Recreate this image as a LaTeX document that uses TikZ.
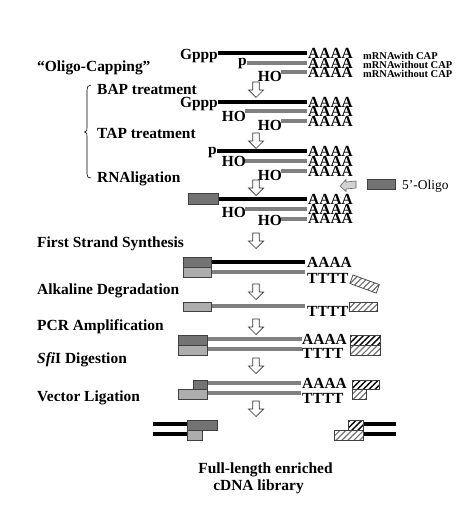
\documentclass[tikz,border=0pt]{standalone}
\usepackage{fontspec}
\setmainfont{Liberation Serif}
\usetikzlibrary{patterns.meta}
\definecolor{midgray}{gray}{0.5}
\definecolor{darkgr}{gray}{0.45}
\definecolor{lightgr}{gray}{0.68}
\begin{document}
\begin{tikzpicture}[x=1bp,y=-1bp,
  lab/.style={font=\fontsize{15.5}{17}\selectfont\bfseries, inner sep=0pt},
  seqt/.style={font=\fontsize{15.5}{17}\selectfont\bfseries, inner sep=0pt},
  mlab/.style={font=\fontsize{10.5}{12}\selectfont\bfseries, inner sep=0pt},
  olab/.style={font=\fontsize{13.5}{15}\selectfont, inner sep=0pt},
  blk/.style={line width=3.8bp, draw=black},
  gry/.style={line width=3.2bp, draw=midgray},
  dbox/.style={draw=black!75, line width=0.7bp, fill=darkgr},
  lbox/.style={draw=black!75, line width=0.7bp, fill=lightgr},
  hbk/.style={draw=black!75, line width=0.7bp, pattern={Lines[angle=45,distance=4.2bp,line width=1.4bp]}, pattern color=black},
  hlt/.style={draw=black!75, line width=0.7bp, pattern={Lines[angle=45,distance=4.2bp,line width=1.2bp]}, pattern color=black!55},
  downarr/.pic={\draw[line width=0.7bp, draw=black!80, fill=white] (-3.3,0) -- (3.3,0) -- (3.3,8) -- (7.5,8) -- (0,15.5) -- (-7.5,8) -- (-3.3,8) -- cycle;}
]
\fill[white] (0,0) rectangle (474,509);
\useasboundingbox (0,0) rectangle (474,509);

% left labels
\node[lab, anchor=base west] (l0) at (37,72) {“Oligo-Capping”};
\node[lab, anchor=base west] (l1) at (97,95) {BAP treatment};
\node[lab, anchor=base west] (l2) at (97,139) {TAP treatment};
\node[lab, anchor=base west] (l3) at (97,183) {RNAligation};
\node[lab, anchor=base west] (l4) at (37,247) {First Strand Synthesis};
\node[lab, anchor=base west] (l5) at (37,294) {Alkaline Degradation};
\node[lab, anchor=base west] (l6) at (37,330) {PCR Amplification};
\node[lab, anchor=base west] (l7) at (37,363) {\textit{Sfi}I Digestion};
\node[lab, anchor=base west] (l8) at (37,401) {Vector Ligation};

% brace
\draw[line width=0.6bp] (91,85) .. controls (88,85) and (87,87) .. (87,90) -- (87,128)
  .. controls (87,131) .. (84.5,132) .. controls (87,133) .. (87,136) -- (87,174)
  .. controls (87,177) and (88,178) .. (91,178);

% block 1
\draw[blk] (218,53) -- (307,53);
\draw[gry] (247,63) -- (307,63);
\draw[gry] (281,72) -- (307,72);
\node[seqt, anchor=base east] (g1) at (218,60) {Gppp};
\node[seqt, anchor=base east] (p1) at (247,66) {p};
\node[seqt, anchor=base east] (h1) at (282,82) {HO};
\node[seqt, anchor=base west] (a11) at (308,59) {AAAA};
\node[seqt, anchor=base west] (a12) at (308,69) {AAAA};
\node[seqt, anchor=base west] (a13) at (308,78) {AAAA};
\node[mlab, anchor=base west] (m1) at (363,60) {mRNAwith CAP};
\node[mlab, anchor=base west] (m2) at (363,69) {mRNAwithout CAP};
\node[mlab, anchor=base west] (m3) at (363,78) {mRNAwithout CAP};

\pic at (256,82) {downarr};

% block 2
\draw[blk] (218,102) -- (307,102);
\draw[gry] (245,111) -- (307,111);
\draw[gry] (281,121) -- (307,121);
\node[seqt, anchor=base east] (g2) at (218,108) {Gppp};
\node[seqt, anchor=base east] (h21) at (246,122) {HO};
\node[seqt, anchor=base east] (h22) at (282,131) {HO};
\node[seqt, anchor=base west] (a21) at (308,108) {AAAA};
\node[seqt, anchor=base west] (a22) at (308,117) {AAAA};
\node[seqt, anchor=base west] (a23) at (308,127) {AAAA};

\pic at (256,133) {downarr};

% block 3
\draw[blk] (217,151) -- (307,151);
\draw[gry] (245,161) -- (307,161);
\draw[gry] (281,171) -- (307,171);
\node[seqt, anchor=base east] (p3) at (217,155) {p};
\node[seqt, anchor=base east] (h31) at (246,167) {HO};
\node[seqt, anchor=base east] (h32) at (282,181) {HO};
\node[seqt, anchor=base west] (a31) at (308,157) {AAAA};
\node[seqt, anchor=base west] (a32) at (308,167) {AAAA};
\node[seqt, anchor=base west] (a33) at (308,177) {AAAA};

\pic at (256,180) {downarr};

% 5'-Oligo legend
\draw[dbox] (367,179) rectangle (395,189);
\node[olab, anchor=base west] (ol) at (402,190) {5'-Oligo};
\draw[line width=0.6bp, draw=black!60, fill=gray!35]
  (340,186) -- (346,179.5) -- (346,182) -- (356,181) -- (356,188) -- (346,189) -- (346,191.5) -- cycle;

% block 4
\draw[blk] (218,199) -- (307,199);
\draw[dbox] (188,193.5) rectangle (218,204.5);
\draw[gry] (245,209) -- (307,209);
\draw[gry] (281,219) -- (307,219);
\node[seqt, anchor=base east] (h41) at (246,217) {HO};
\node[seqt, anchor=base east] (h42) at (282,225) {HO};
\node[seqt, anchor=base west] (a41) at (308,204) {AAAA};
\node[seqt, anchor=base west] (a42) at (308,214) {AAAA};
\node[seqt, anchor=base west] (a43) at (308,223) {AAAA};

\pic at (256,233) {downarr};

% block 5 first strand
\draw[blk] (211,262) -- (305,262);
\draw[gry] (211,272) -- (305,272);
\draw[dbox] (183,257) rectangle (211,267);
\draw[lbox] (183,267) rectangle (211,277);
\node[seqt, anchor=base west] (a5) at (307,267) {AAAA};
\node[seqt, anchor=base west] (t5) at (307,283) {TTTT};
\draw[hlt] (353,275) -- (379.3,284.6) -- (376.2,293.1) -- (349.9,283.5) -- cycle;

\pic at (256,284) {downarr};

% block 6 alkaline
\draw[gry] (211,306) -- (305,306);
\draw[lbox] (183,302) rectangle (211,311);
\node[seqt, anchor=base west] (t6) at (307,316) {TTTT};
\draw[hlt] (349,302) rectangle (377,311);

\pic at (256,319) {downarr};

% block 7 PCR
\draw[gry] (207,339) -- (302,339);
\draw[gry] (207,349) -- (302,349);
\draw[dbox] (178,335) rectangle (207,345);
\draw[lbox] (178,345) rectangle (207,355);
\node[seqt, anchor=base west] (a7) at (302,344) {AAAA};
\node[seqt, anchor=base west] (t7) at (302,358) {TTTT};
\draw[hbk] (350,335) rectangle (380,345);
\draw[hlt] (350,345) rectangle (380,355);

\pic at (256,358) {downarr};

% block 8 vector ligation
\draw[gry] (207,383) -- (301,383);
\draw[gry] (207,393) -- (301,393);
\draw[dbox] (193,380) rectangle (207,389);
\draw[lbox] (178,389) rectangle (207,399);
\node[seqt, anchor=base west] (a8) at (302,388) {AAAA};
\node[seqt, anchor=base west] (t8) at (302,403) {TTTT};
\draw[hbk] (352,380) rectangle (379,389);
\draw[hlt] (352,389) rectangle (366,399);

\pic at (256,401) {downarr};

% block 9 final
\draw[blk] (153,424) -- (188,424);
\draw[blk] (153,434) -- (188,434);
\draw[dbox] (187,420) rectangle (217,430);
\draw[lbox] (187,430) rectangle (202,440);
\draw[blk] (363,424) -- (396,424);
\draw[blk] (363,434) -- (396,434);
\draw[hbk] (348,420) rectangle (363,430);
\draw[hlt] (334,430) rectangle (363,440);

\node[lab, anchor=base] (f1) at (265.5,473) {Full-length enriched};
\node[lab, anchor=base] (f2) at (258.5,490) {cDNA library};
\end{tikzpicture}
\end{document}
